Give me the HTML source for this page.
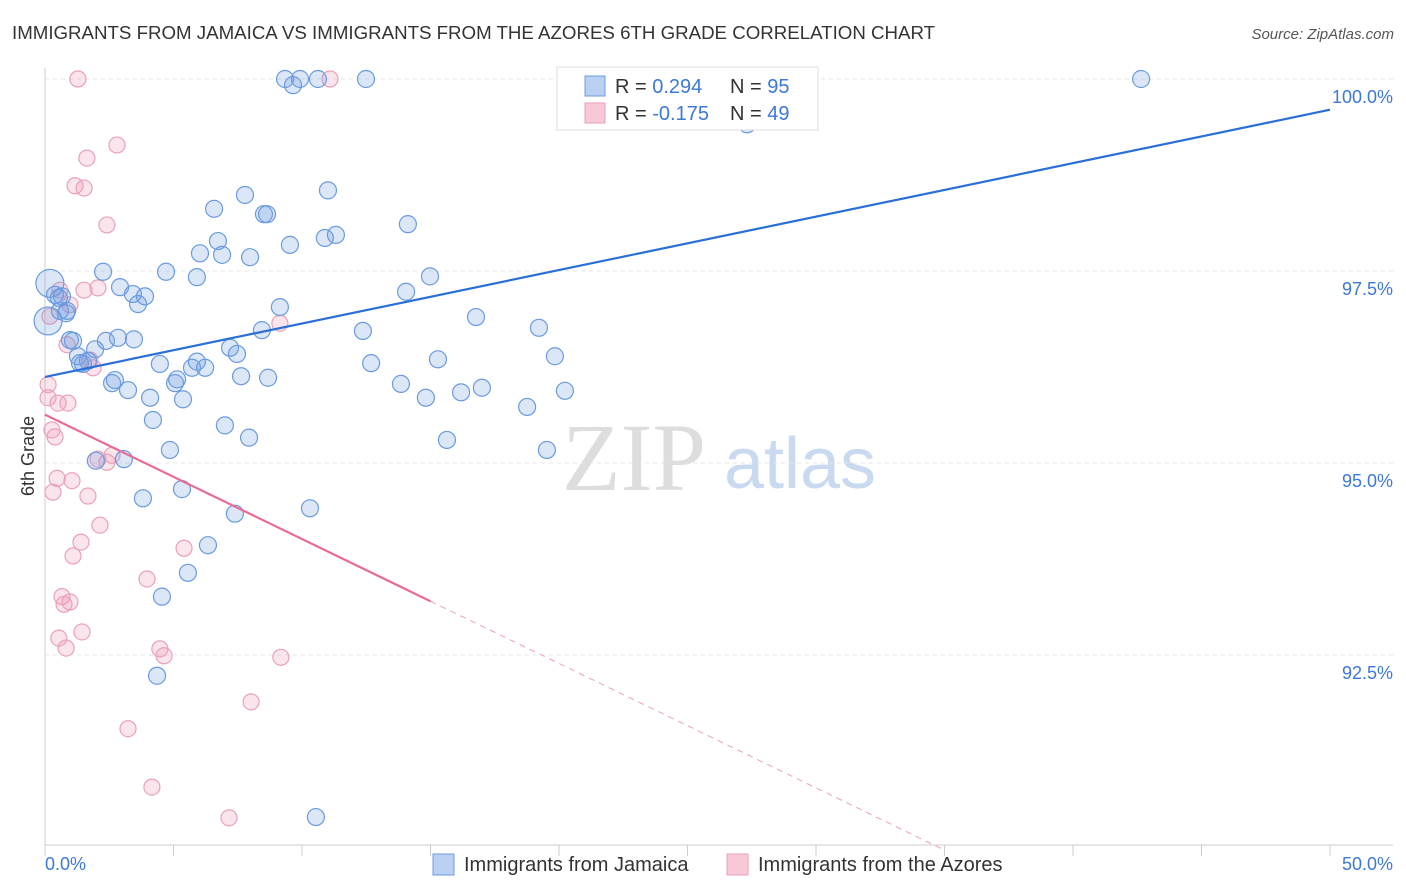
<!DOCTYPE html>
<html><head><meta charset="utf-8"><style>
body{margin:0;background:#fff;font-family:"Liberation Sans",sans-serif;}
svg{display:block}
</style></head><body>
<svg id="chart" width="1406" height="892" viewBox="0 0 1406 892" xmlns="http://www.w3.org/2000/svg">
<text x="12" y="39" font-size="18.7" fill="#333">IMMIGRANTS FROM JAMAICA VS IMMIGRANTS FROM THE AZORES 6TH GRADE CORRELATION CHART</text>
<text x="1394" y="39" font-size="15" fill="#555" font-style="italic" text-anchor="end">Source: ZipAtlas.com</text>
<g>
<text x="634" y="490" font-size="96" fill="#ddd" font-family="Liberation Serif,serif" text-anchor="middle">ZIP</text>
<text x="800" y="488" font-size="72" fill="#c9d9ef" text-anchor="middle">atlas</text>
</g>
<g id="grid"></g>
<g id="axes"></g>
<text x="34" y="456" font-size="18" fill="#333" text-anchor="middle" transform="rotate(-90 34 456)">6th Grade</text>
<g id="marks"></g>
<g id="lines"></g>
<g>
<rect x="557" y="67" width="261" height="63" fill="#fff" stroke="#ddd"/>
<rect x="585" y="76" width="20" height="20" fill="#b9d0f3" stroke="#6a9be0"/>
<rect x="585" y="103" width="20" height="20" fill="#f8c8d6" stroke="#eaa0b8"/>
<text x="615" y="93" font-size="20" fill="#333">R = <tspan fill="#3c78d8">0.294</tspan></text>
<text x="730" y="93" font-size="20" fill="#333">N = <tspan fill="#3c78d8">95</tspan></text>
<text x="615" y="120" font-size="20" fill="#333">R = <tspan fill="#3c78d8">-0.175</tspan></text>
<text x="730" y="120" font-size="20" fill="#333">N = <tspan fill="#3c78d8">49</tspan></text>
</g>
<g>
<rect x="433" y="854" width="21" height="21" fill="#b9d0f3" stroke="#6a9be0"/>
<text x="464" y="871" font-size="20" fill="#333">Immigrants from Jamaica</text>
<rect x="727" y="854" width="21" height="21" fill="#f8c8d6" stroke="#eaa0b8"/>
<text x="758" y="871" font-size="20" fill="#333">Immigrants from the Azores</text>
</g>
</svg>
<script>
const blueX=[0.19,0.39,0.66,0.86,0.58,1.09,1.28,1.36,1.67,1.95,2.26,2.37,2.61,2.72,2.92,2.84,3.23,3.42,3.62,3.89,3.46,4.09,4.20,4.47,4.71,4.86,5.06,5.14,5.33,5.37,5.56,5.72,5.91,5.91,6.03,6.23,6.34,6.58,6.73,6.89,7.00,7.20,7.39,7.47,7.63,7.78,7.94,7.98,8.52,8.64,8.44,8.68,9.14,9.53,9.34,9.65,9.92,10.31,10.54,10.62,10.89,11.01,11.32,12.37,12.49,12.69,13.85,14.05,14.12,14.82,14.98,15.29,15.64,16.19,16.77,17.00,18.76,19.22,19.53,19.84,20.23,20.27,25.72,27.32,42.65,4.36,4.55,1.98,3.07,3.81,0.82,0.97,1.48,0.54,0.12];
const blueY=[97.34,97.19,97.17,96.98,96.98,96.59,96.39,96.30,96.33,96.48,97.49,96.59,96.04,96.08,97.29,96.63,95.95,97.20,97.07,97.17,96.61,95.85,95.56,96.29,97.49,95.17,96.04,96.09,94.66,95.83,93.57,96.24,97.42,96.32,97.73,96.24,93.93,98.31,97.89,97.71,95.49,96.50,94.34,96.42,96.13,98.49,95.33,97.68,98.24,98.24,96.73,96.11,97.03,97.84,100,99.92,100,94.41,90.39,100,97.93,98.55,97.97,96.72,100,96.30,96.03,97.23,98.11,95.85,97.43,96.35,95.30,95.92,96.90,95.98,95.73,96.76,95.17,96.39,95.94,100,100,99.41,100,92.23,93.26,95.03,95.05,94.54,96.95,96.60,96.29,97.15,96.85];
const pinkX=[1.28,11.09,1.63,2.80,1.17,1.52,2.41,0.58,0.97,2.06,1.52,0.19,0.86,1.75,1.87,9.14,0.12,0.12,0.51,0.89,0.39,0.47,0.31,1.05,1.67,2.61,2.41,2.14,1.40,1.09,5.41,3.97,0.66,0.97,0.74,1.44,0.54,0.82,4.47,4.63,9.18,8.02,3.23,4.16,7.16,2.06,0.27];
const pinkY=[100,100,98.97,99.14,98.61,98.58,98.10,97.25,97.06,97.28,97.25,96.91,96.54,96.34,96.24,96.82,96.02,95.85,95.78,95.78,95.34,94.80,94.62,94.77,94.57,95.10,95.01,94.19,93.97,93.79,93.89,93.49,93.26,93.19,93.16,92.80,92.72,92.59,92.58,92.49,92.47,91.89,91.54,90.78,90.38,95.05,95.43];
const blueTrend=[[0,96.12],[50,99.60]];
const pinkTrendSolid=[[0,95.63],[15,93.20]];
const pinkTrendDash=[[15,93.20],[35,89.96]];
const yTicks=[100,97.5,95,92.5];
const yTickLabels=["100.0%","97.5%","95.0%","92.5%"];
const xTickLabels=["0.0%","50.0%"];

const NS="http://www.w3.org/2000/svg";
const X=v=>45+v/50*1285;
const Y=v=>79+(100-v)/2.5*192;
function mk(tag,attrs,parent){const e=document.createElementNS(NS,tag);for(const k in attrs)e.setAttribute(k,attrs[k]);parent.appendChild(e);return e;}
const grid=document.getElementById('grid'),axes=document.getElementById('axes'),marks=document.getElementById('marks'),lines=document.getElementById('lines');
yTicks.forEach((t,i)=>{
  const g=mk('line',{x1:45,x2:1393,y1:Y(t),y2:Y(t),stroke:'#e4e4e4','stroke-dasharray':'4,4'},grid);
  
  
  const l=mk('text',{x:1393,y:Y(t)+24,'font-size':18,fill:'#3c78d8','text-anchor':'end'},axes);
  l.textContent=yTickLabels[i];
  
  
});
mk('line',{x1:45,x2:45,y1:68,y2:845,stroke:'#ccc'},axes);
const xa=mk('line',{x1:45,x2:1393,y1:845,y2:845,stroke:'#ccc'},axes);


for(let i=0;i<=10;i++){mk('line',{x1:X(i*5),x2:X(i*5),y1:845,y2:856,stroke:'#ccc'},axes);}
const xl0=mk('text',{x:45,y:870,'font-size':18,fill:'#3c78d8'},axes);xl0.textContent=xTickLabels[0];


const xl1=mk('text',{x:1393,y:870,'font-size':18,fill:'#3c78d8','text-anchor':'end'},axes);xl1.textContent=xTickLabels[1];


pinkX.forEach((x,i)=>{
  const c=mk('circle',{cx:X(x),cy:Y(pinkY[i]),r:8,fill:'rgba(240,150,180,0.25)',stroke:'#eaa0b8','stroke-width':1.2},marks);
  
  
});
blueX.forEach((x,i)=>{
  const r=(i===0||i===blueX.length-1)?14:8.5;
  const c=mk('circle',{cx:X(x),cy:Y(blueY[i]),r:r,fill:'rgba(110,155,225,0.25)',stroke:'#6a9be0','stroke-width':1.2},marks);
  
  
});
const bl=mk('line',{x1:X(blueTrend[0][0]),y1:Y(blueTrend[0][1]),x2:X(blueTrend[1][0]),y2:Y(blueTrend[1][1]),stroke:'#2a6fd6','stroke-width':2.2},lines);


const pl=mk('line',{x1:X(pinkTrendSolid[0][0]),y1:Y(pinkTrendSolid[0][1]),x2:X(pinkTrendSolid[1][0]),y2:Y(pinkTrendSolid[1][1]),stroke:'#e86a96','stroke-width':2.2},lines);


const pd=mk('line',{x1:X(pinkTrendDash[0][0]),y1:Y(pinkTrendDash[0][1]),x2:X(pinkTrendDash[1][0]),y2:Y(pinkTrendDash[1][1]),stroke:'#eaa0b8','stroke-width':1,'stroke-dasharray':'6,5'},lines);


</script>
</body></html>
